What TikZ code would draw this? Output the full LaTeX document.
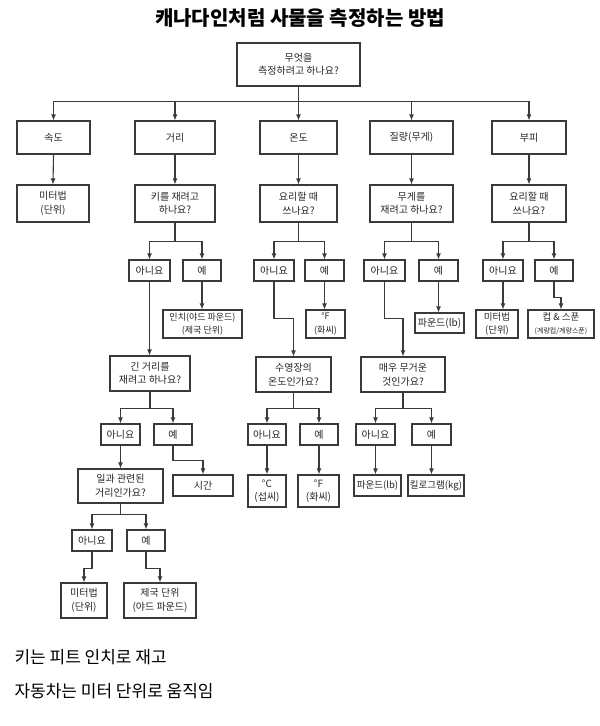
\documentclass[tikz,border=0pt]{standalone}
\usepackage{fontspec}
\setmainfont{Noto Sans CJK KR}
\usetikzlibrary{arrows.meta}
\definecolor{ln}{HTML}{3A3A3A}
\begin{document}
\begin{tikzpicture}[x=1pt,y=-1pt,
  box/.style={draw=ln,line width=1.1pt,inner sep=0pt,align=center,font=\fontsize{10}{13.5}\selectfont,text=black!85},
  arr/.style={draw=ln,line width=1.1pt,-{Latex[length=6pt,width=5pt]}}]
\useasboundingbox[fill=white] (0,0) rectangle (600,726);
\newcommand\bx[6]{\node[box,minimum width=#4pt,minimum height=#5pt] (#1) at (#2,#3) {#6};}
\node[font=\fontsize{20}{24}\selectfont\bfseries] (title) at (300,18) {캐나다인처럼 사물을 측정하는 방법};
\bx{top}{298.5}{64.5}{123}{43}{무엇을\\측정하려고 하나요?}
\bx{a}{53.5}{137.5}{73}{33}{속도}
\bx{b}{175}{137.5}{80}{33}{거리}
\bx{c}{298.5}{137.5}{77}{33}{온도}
\bx{d}{411.5}{137.5}{83}{33}{질량(무게)}
\bx{e}{529}{137.5}{74}{33}{부피}
\foreach \n in {a,b,c,d,e} \draw[arr] (top.south) -- ++(0,15) -| (\n.north);
\bx{a2}{53}{203.5}{72}{37}{미터법\\(단위)}
\bx{b2}{175}{203.5}{80}{37}{키를 재려고\\하나요?}
\bx{c2}{298.5}{203.5}{77}{37}{요리할 때\\쓰나요?}
\bx{d2}{411.5}{203.5}{83}{37}{무게를\\재려고 하나요?}
\bx{e2}{529}{203.5}{74}{37}{요리할 때\\쓰나요?}
\foreach \n in {a,b,c,d,e} \draw[arr] (\n.south) -- (\n2.north);
% level 3
\bx{bn}{149.5}{270.5}{41}{21}{아니요}
\bx{by}{202}{270.5}{38}{21}{예}
\bx{cn}{274}{270.5}{40}{21}{아니요}
\bx{cy}{324.5}{270.5}{39}{21}{예}
\bx{dn}{384.5}{270.5}{41}{21}{아니요}
\bx{dy}{438.5}{270.5}{39}{21}{예}
\bx{en}{503}{270.5}{40}{21}{아니요}
\bx{ey}{554}{270.5}{38}{21}{예}
\foreach \p/\c in {b2/bn,b2/by,c2/cn,c2/cy,d2/dn,d2/dy,e2/en,e2/ey} \draw[arr] (\p.south) -- ++(0,19) -| (\c.north);
% level 4
\bx{b4}{202.5}{324}{79}{28}{\fontsize{9}{12}\selectfont 인치(야드 파운드)\\\fontsize{9}{12}\selectfont (제국 단위)}
\bx{c4}{325.5}{324}{39}{28}{\fontsize{9}{12}\selectfont °F\\\fontsize{9}{12}\selectfont (화씨)}
\bx{d4}{439.5}{323}{49}{20}{파운드(lb)}
\bx{e4}{497}{324}{42}{28}{\fontsize{9.5}{12}\selectfont 미터법\\\fontsize{9.5}{12}\selectfont (단위)}
\bx{f4}{561}{324}{66}{28}{\fontsize{9.5}{12}\selectfont 컵 \& 스푼\\\fontsize{7}{10}\selectfont (계량컵/계량스푼)}
\draw[arr] (by.south) -- (by.south |- b4.north);
\draw[arr] (cy.south) -- (cy.south |- c4.north);
\draw[arr] (dy.south) -- (dy.south |- d4.north);
\draw[arr] (en.south) -- (en.south |- e4.north);
\draw[arr] (ey.south) -- ++(0,16) -| (f4.north);
% level 5
\bx{b5}{150}{373.5}{80}{35}{긴 거리를\\재려고 하나요?}
\bx{c5}{293.5}{374.5}{75}{35}{수영장의\\온도인가요?}
\bx{d5}{403}{374.5}{84}{35}{매우 무거운\\것인가요?}
\draw[arr] (bn.south) -- (bn.south |- b5.north);
\draw[arr] (cn.south) -- ++(0,37) -| (c5.north);
\draw[arr] (dn.south) -- ++(0,37) -| (d5.north);
% level 6
\bx{b6n}{120.5}{434.5}{39}{21}{아니요}
\bx{b6y}{173}{434.5}{38}{21}{예}
\bx{c6n}{267}{434.5}{38}{21}{아니요}
\bx{c6y}{319}{434.5}{38}{21}{예}
\bx{d6n}{375.5}{434.5}{39}{21}{아니요}
\bx{d6y}{431.5}{434.5}{39}{21}{예}
\draw[arr] (b5.south) -- ++(0,17) -| (b6n.north);
\draw[arr] (b5.south) -- ++(0,17) -| (b6y.north);
\foreach \p/\c in {c5/c6n,c5/c6y,d5/d6n,d5/d6y} \draw[arr] (\p.south) -- ++(0,16) -| (\c.north);
% level 7
\bx{b7}{120.5}{486}{85}{34}{일과 관련된\\거리인가요?}
\bx{b7y}{203}{485.5}{60}{21}{시간}
\bx{c7n}{267}{491}{38}{32}{°C\\(섭씨)}
\bx{c7y}{318.5}{491}{41}{32}{°F\\(화씨)}
\bx{d7n}{377.5}{485.5}{47}{21}{\fontsize{9.5}{12}\selectfont 파운드(lb)}
\bx{d7y}{436}{485.5}{56}{21}{\fontsize{9.5}{12}\selectfont 킬로그램(kg)}
\draw[arr] (b6n.south) -- (b6n.south |- b7.north);
\draw[arr] (b6y.south) -- ++(0,15) -| (b7y.north);
\draw[arr] (c6n.south) -- (c6n.south |- c7n.north);
\draw[arr] (c6y.south) -- (c6y.south |- c7y.north);
\draw[arr] (d6n.south) -- (d6n.south |- d7n.north);
\draw[arr] (d6y.south) -- (d6y.south |- d7y.north);
% level 8
\bx{b8n}{92}{540.5}{40}{21}{아니요}
\bx{b8y}{146}{540.5}{38}{21}{예}
\foreach \c in {b8n,b8y} \draw[arr] (b7.south) -- ++(0,11) -| (\c.north);
\bx{b9n}{84}{600.5}{46}{35}{미터법\\(단위)}
\bx{b9y}{160}{600.5}{72}{35}{제국 단위\\(야드 파운드)}
\draw[arr] (b8n.south) -- ++(0,17) -| (b9n.north);
\draw[arr] (b8y.south) -- ++(0,17) -| (b9y.north);
\node[anchor=west,font=\fontsize{17}{20}\selectfont] (t1) at (11,657) {키는 피트 인치로 재고};
\node[anchor=west,font=\fontsize{17}{20}\selectfont] (t2) at (11,691) {자동차는 미터 단위로 움직임};
\end{tikzpicture}
\end{document}
